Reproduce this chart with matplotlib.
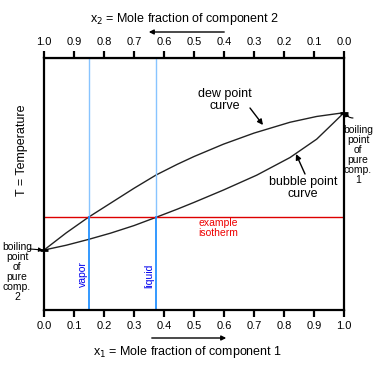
"""
二成分系の T-x 相図（沸点図）を描く
"""
import matplotlib
import matplotlib.pyplot as plt

matplotlib.rcParams["font.family"] = ["Liberation Sans", "DejaVu Sans"]

W, H = 380, 370

# x1 に対する温度（軸は 0〜1 の相対値）
dew_x = [0.0, 0.074, 0.148, 0.222, 0.300, 0.374, 0.444, 0.500, 0.598, 0.700, 0.820, 0.909, 1.0]
dew_t = [0.238, 0.306, 0.368, 0.424, 0.483, 0.536, 0.578, 0.609, 0.658, 0.702, 0.745, 0.768, 0.783]
bubble_x = [0.0, 0.074, 0.148, 0.222, 0.300, 0.374, 0.444, 0.500, 0.598, 0.709, 0.820, 0.909, 0.963, 1.0]
bubble_t = [0.238, 0.257, 0.280, 0.305, 0.335, 0.368, 0.400, 0.427, 0.476, 0.535, 0.605, 0.678, 0.740, 0.783]

isotherm_t = 0.368
vapor_x = 0.149
liquid_x = 0.374

ticks = [i / 10 for i in range(11)]
bottom_labels = [f"{v:.1f}" for v in ticks]
top_labels = [f"{1 - v:.1f}" for v in ticks]


def fig_xy(px, py):
    """ピクセル座標を figure 座標へ"""
    return px / W, (H - py) / H


def data_xy(px, py):
    """ピクセル座標をデータ座標へ"""
    return (px - 44) / 300, (310 - py) / 252


fig = plt.figure(figsize=(W / 100, H / 100), dpi=100)
ax = fig.add_axes([44 / W, 60 / H, 300 / W, 252 / H])
ax.set_xlim(0, 1)
ax.set_ylim(0, 1)

for s in ax.spines.values():
    s.set_linewidth(1.6)

ax.set_xticks(ticks)
ax.set_xticklabels(bottom_labels, fontsize=8)
ax.set_yticks([])
ax.tick_params(axis="x", direction="out", length=5, width=1.6, pad=3)

top = ax.secondary_xaxis("top")
top.set_xticks(ticks)
top.set_xticklabels(top_labels, fontsize=8)
top.tick_params(direction="out", length=5, width=1.6, pad=3)

# 曲線
ax.plot(dew_x, dew_t, color="#222222", lw=1.0)
ax.plot(bubble_x, bubble_t, color="#222222", lw=1.0)

# 等温線と組成線
ax.axhline(isotherm_t, color="#dd0000", lw=1.0)
for xv in (vapor_x, liquid_x):
    ax.plot([xv, xv], [isotherm_t, 1], color="#88c4ff", lw=1.0)
    ax.plot([xv, xv], [0, isotherm_t], color="#1188ff", lw=1.2)

ax.text(*data_xy(83, 274), "vapor", rotation=90, color="#0000ee",
        fontsize=7.5, ha="center", va="center")
ax.text(*data_xy(149, 276), "liquid", rotation=90, color="#0000ee",
        fontsize=7.5, ha="center", va="center")
ax.text(*data_xy(218, 228), "example\nisotherm", color="#ee0000",
        fontsize=7.5, ha="center", va="center", linespacing=1.0)

ax.text(*data_xy(225, 100), "dew point\ncurve", fontsize=9,
        ha="center", va="center", linespacing=1.1)
ax.annotate("", xy=data_xy(263, 125), xytext=data_xy(250, 108),
            arrowprops=dict(arrowstyle="-|>", color="black", lw=1.0,
                            mutation_scale=8, shrinkA=0, shrinkB=0))
ax.text(*data_xy(303, 188), "bubble point\ncurve", fontsize=9,
        ha="center", va="center", linespacing=1.1)
ax.annotate("", xy=data_xy(296, 154), xytext=data_xy(305, 174),
            arrowprops=dict(arrowstyle="-|>", color="black", lw=1.0,
                            mutation_scale=8, shrinkA=0, shrinkB=0))

# 純成分の沸点
fig.text(*fig_xy(17, 272), "boiling\npoint\nof\npure\ncomp.\n2", fontsize=7.5,
         ha="center", va="center", linespacing=1.0)
ax.annotate("", xy=data_xy(43, 250), xytext=data_xy(30, 249),
            arrowprops=dict(arrowstyle="-|>", color="black", lw=0.8,
                            mutation_scale=6, shrinkA=0, shrinkB=0),
            annotation_clip=False)
ax.plot([0], [0.238], marker="_", color="black", ms=6, mew=2, clip_on=False)

fig.text(*fig_xy(358, 155), "boiling\npoint\nof\npure\ncomp.\n1", fontsize=7.5,
         ha="center", va="center", linespacing=1.0)
ax.annotate("", xy=data_xy(346, 112), xytext=data_xy(353, 118),
            arrowprops=dict(arrowstyle="-|>", color="black", lw=0.8,
                            mutation_scale=6, shrinkA=0, shrinkB=0,
                            connectionstyle="arc3,rad=-0.4"),
            annotation_clip=False)
ax.plot([1], [0.783], marker="_", color="black", ms=6, mew=2, clip_on=False)

# 軸ラベル
fig.text(*fig_xy(22, 150), "T = Temperature", rotation=90, fontsize=9,
         ha="center", va="center")
fig.text(*fig_xy(188, 352), "x$_1$ = Mole fraction of component 1",
         fontsize=9, ha="center", va="center")
fig.text(*fig_xy(185, 19), "x$_2$ = Mole fraction of component 2",
         fontsize=9, ha="center", va="center")

fig.add_artist(matplotlib.patches.FancyArrowPatch(
    fig_xy(149, 338), fig_xy(229, 338), arrowstyle="-|>",
    mutation_scale=7, lw=1.0, color="black", transform=fig.transFigure))
fig.add_artist(matplotlib.patches.FancyArrowPatch(
    fig_xy(227, 32), fig_xy(146, 32), arrowstyle="-|>",
    mutation_scale=7, lw=1.0, color="black", transform=fig.transFigure))

fig.savefig("out.png", dpi=100)
